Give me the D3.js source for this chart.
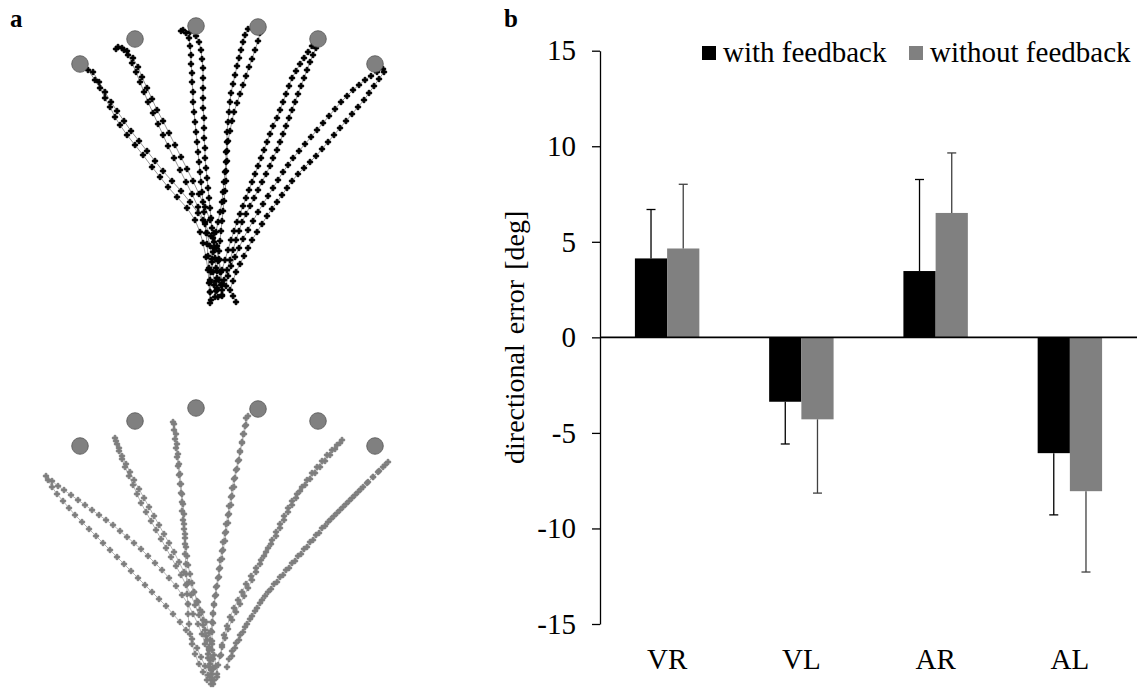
<!DOCTYPE html>
<html>
<head>
<meta charset="utf-8">
<script src="https://cdn.jsdelivr.net/npm/d3@7"></script>
<style>
  body { margin: 0; background: #fff; }
  svg, svg text { font-family: "Liberation Serif", "Times New Roman", serif; }
</style>
</head>
<body>
<svg width="1139" height="691"></svg>
<script>
// ---- panel a: hand paths, x lateral / y forward from start (mm) ----
const targets = [[-147, 236], [-92, 261], [-31, 274], [31, 273], [91, 261], [148, 236]];

const withPaths = [
  [[-139,230],[-132,220],[-127,212],[-122,202],[-117,193],[-112,183],[-107,175],[-100,165],[-92,155],[-84,145],[-75,133],[-67,123],[-59,113],[-50,103],[-40,92],[-32,80],[-27,68],[-24,57],[-21,43],[-19,30],[-18,17],[-17,-3]],
  [[-134,228],[-128,218],[-122,208],[-116,198],[-110,189],[-103,179],[-96,169],[-88,159],[-80,149],[-72,139],[-64,129],[-55,119],[-46,109],[-37,98],[-29,87],[-22,76],[-16,64],[-11,52],[-8,40],[-6,28],[-5,16],[-5,5]],
  [[-109,253],[-103,250],[-99,245],[-95,237],[-91,228],[-87,218],[-83,208],[-79,198],[-74,187],[-69,176],[-64,165],[-59,154],[-53,142],[-47,130],[-41,118],[-35,106],[-29,93],[-24,80],[-20,67],[-17,54],[-15,41],[-14,28],[-13,15],[-12,3]],
  [[-111,251],[-105,252],[-100,249],[-94,242],[-89,233],[-85,223],[-80,212],[-75,201],[-70,190],[-64,179],[-58,167],[-52,155],[-46,143],[-40,131],[-34,119],[-28,106],[-22,93],[-17,80],[-13,67],[-10,54],[-8,41],[-7,28],[-6,15],[-5,4]],
  [[-46,269],[-41,267],[-38,262],[-37,254],[-36,245],[-36,236],[-35,227],[-35,218],[-34,208],[-34,198],[-33,188],[-32,178],[-31,168],[-30,158],[-29,148],[-28,138],[-27,128],[-26,118],[-25,108],[-24,98],[-23,88],[-22,78],[-21,67],[-20,56],[-19,44],[-18,32],[-17,20],[-17,8],[-16,0]],
  [[-44,270],[-37,268],[-31,264],[-28,258],[-26,250],[-25,241],[-24,232],[-24,222],[-24,212],[-24,202],[-24,192],[-23,182],[-23,172],[-23,162],[-22,152],[-22,142],[-21,132],[-20,122],[-19,112],[-18,102],[-17,92],[-16,82],[-15,72],[-14,62],[-13,52],[-12,42],[-11,32],[-10,22],[-10,12],[-9,3]],
  [[21,271],[18,265],[16,258],[14,250],[12,242],[10,234],[8,225],[6,216],[4,207],[3,198],[2,188],[1,178],[0,168],[0,158],[-1,148],[-1,138],[-2,128],[-3,118],[-4,108],[-5,98],[-7,88],[-9,78],[-11,68],[-13,58],[-14,48],[-15,38],[-16,28],[-17,18],[-17,8]],
  [[33,267],[31,259],[28,250],[25,241],[22,233],[19,224],[16,215],[13,206],[10,197],[7,188],[5,179],[3,169],[1,159],[0,149],[0,139],[-1,129],[-1,119],[-2,109],[-3,99],[-4,89],[-5,79],[-6,69],[-7,59],[-8,49],[-9,39],[-10,29],[-11,19],[-11,9]],
  [[85,254],[81,248],[77,242],[73,236],[69,229],[65,222],[62,214],[59,206],[56,198],[53,190],[50,182],[46,174],[43,166],[40,158],[37,150],[34,142],[31,134],[28,126],[25,118],[22,110],[19,102],[16,94],[13,86],[10,78],[7,69],[4,60],[1,50],[-2,40],[-5,30],[-8,20],[-10,10]],
  [[89,252],[86,245],[83,238],[80,230],[77,222],[74,214],[71,206],[68,198],[65,190],[62,182],[59,174],[56,166],[53,158],[50,150],[46,142],[43,134],[39,126],[35,118],[31,110],[27,102],[23,94],[19,86],[15,78],[12,69],[9,60],[6,50],[3,40],[0,30],[-3,20],[-5,10]],
  [[156,231],[150,228],[144,224],[138,220],[132,215],[126,210],[120,204],[114,198],[108,191],[102,184],[96,177],[90,170],[84,163],[78,156],[72,149],[66,142],[61,135],[56,128],[51,120],[46,112],[41,104],[36,96],[31,88],[26,79],[21,70],[16,61],[12,52],[8,43],[4,34],[1,24],[-1,14]],
  [[157,228],[152,221],[147,214],[142,207],[137,200],[131,193],[125,186],[119,179],[113,172],[107,165],[101,158],[95,151],[89,144],[83,138],[77,132],[71,126],[65,119],[60,112],[55,105],[50,98],[45,91],[40,84],[35,76],[30,68],[25,60],[21,52],[17,44],[13,36],[9,28],[6,19],[3,10],[6,4],[9,-2]]
];

const withoutPaths = [
  [[-181,206],[-175,201],[-169,196],[-163,192],[-156,187],[-149,182],[-142,177],[-135,172],[-128,167],[-121,162],[-114,157],[-107,151],[-100,145],[-93,139],[-86,133],[-79,126],[-72,119],[-65,112],[-58,104],[-51,96],[-45,87],[-39,78],[-34,68],[-29,58],[-25,48],[-22,38],[-19,28],[-17,18],[-15,8],[-14,-2]],
  [[-179,202],[-175,195],[-170,188],[-164,181],[-158,174],[-152,167],[-145,160],[-138,153],[-131,146],[-124,139],[-117,132],[-110,125],[-103,118],[-96,111],[-89,104],[-82,97],[-75,90],[-68,83],[-61,76],[-54,68],[-47,60],[-41,52],[-35,43],[-30,34],[-26,25],[-22,16],[-19,7],[-16,-2]],
  [[-112,244],[-110,238],[-108,231],[-105,223],[-102,215],[-98,206],[-94,197],[-90,188],[-86,179],[-81,170],[-76,161],[-71,152],[-66,143],[-61,134],[-56,125],[-51,116],[-46,107],[-41,97],[-36,87],[-32,77],[-28,67],[-24,57],[-21,46],[-18,35],[-16,24],[-14,13],[-13,2]],
  [[-111,241],[-108,234],[-105,226],[-101,218],[-97,210],[-93,202],[-88,193],[-83,184],[-78,175],[-73,166],[-68,157],[-63,148],[-58,139],[-53,130],[-48,120],[-43,110],[-38,100],[-33,90],[-29,80],[-25,70],[-21,60],[-18,49],[-15,38],[-13,27],[-11,16],[-10,5]],
  [[-54,260],[-53,252],[-52,243],[-51,234],[-50,225],[-49,216],[-48,207],[-47,198],[-46,189],[-45,180],[-45,171],[-44,162],[-43,153],[-42,144],[-41,135],[-40,126],[-39,117],[-37,108],[-35,99],[-33,90],[-30,81],[-27,72],[-24,62],[-22,52],[-20,42],[-18,32],[-17,22],[-16,12],[-15,2]],
  [[-53,258],[-51,248],[-50,238],[-49,228],[-48,218],[-47,208],[-46,198],[-45,188],[-44,178],[-43,168],[-43,158],[-42,148],[-42,138],[-42,128],[-41,118],[-41,108],[-40,98],[-40,88],[-39,78],[-39,68],[-38,58],[-37,48],[-35,38],[-32,28],[-28,18],[-24,10],[-20,2]],
  [[19,264],[18,256],[16,248],[15,240],[13,231],[12,222],[10,213],[8,204],[7,195],[5,186],[4,177],[2,168],[1,159],[-1,150],[-2,141],[-4,132],[-5,123],[-7,114],[-8,105],[-10,96],[-11,87],[-13,78],[-14,69],[-15,60],[-16,51],[-17,42],[-18,33],[-19,24],[-18,15],[-17,5]],
  [[21,266],[19,257],[17,248],[15,239],[13,230],[11,221],[9,212],[7,203],[5,194],[4,185],[2,176],[1,167],[-1,158],[-2,149],[-4,140],[-5,131],[-7,122],[-8,113],[-9,104],[-11,95],[-12,86],[-13,77],[-14,68],[-14,59],[-15,50],[-15,41],[-15,32],[-14,23],[-14,14]],
  [[115,242],[110,237],[105,232],[100,227],[95,221],[90,215],[85,209],[80,202],[75,195],[70,188],[65,181],[61,174],[57,166],[53,158],[49,150],[45,142],[41,134],[37,126],[33,118],[29,110],[25,102],[21,94],[17,86],[13,78],[9,70],[5,62],[1,53],[-2,44],[-5,35],[-7,26],[-9,17],[-10,8]],
  [[113,239],[108,233],[103,227],[98,221],[93,215],[88,209],[83,203],[78,197],[73,191],[69,184],[65,177],[61,170],[57,162],[53,154],[49,146],[44,138],[39,130],[34,122],[29,114],[24,106],[19,98],[15,90],[11,82],[7,74],[3,65],[0,56],[-3,47],[-5,37],[-6,27]],
  [[161,220],[156,215],[151,210],[146,205],[141,200],[136,195],[131,190],[125,184],[119,178],[113,172],[107,166],[101,160],[95,154],[89,147],[83,140],[77,133],[71,126],[65,119],[59,112],[53,105],[47,98],[41,90],[35,82],[30,74],[25,66],[20,58],[16,50],[12,42],[8,34],[5,26]],
  [[158,217],[152,211],[146,205],[140,199],[134,193],[128,187],[122,181],[116,175],[110,169],[104,163],[98,156],[92,149],[86,142],[80,135],[74,128],[68,121],[62,114],[56,107],[50,100],[44,93],[38,86],[33,79],[28,71],[23,63],[18,55],[13,47],[9,39],[5,31],[2,23],[0,15]]
];

// ---- panel b: directional error ----
const conditions = ["VR", "VL", "AR", "AL"];
const seriesNames = ["with feedback", "without feedback"];
const withMean = [4.13, -3.37, 3.47, -6.06];
const withSD = [2.56, 2.21, 4.79, 3.23];
const withoutMean = [4.65, -4.29, 6.51, -8.05];
const withoutSD = [3.36, 3.86, 3.14, 4.23];
const yTicks = [-15, -10, -5, 0, 5, 10, 15];

const svg = d3.select("svg");

// panel labels
svg.append("text").attr("x", 10).attr("y", 27).attr("font-size", 25)
  .attr("font-weight", "bold").text("a");
svg.append("text").attr("x", 504).attr("y", 27).attr("font-size", 25)
  .attr("font-weight", "bold").text("b");

// panel a
const px = d3.scaleLinear().domain([-227, 173]).range([0, 400]);
const pyTop = d3.scaleLinear().domain([0, 300]).range([300, 0]);
const pyBot = d3.scaleLinear().domain([0, 300]).range([682, 382]);
const marker = d3.symbol().type(d3.symbolCross).size(16);

function drawPanel(paths, py, dotColor, lineColor) {
  const g = svg.append("g");
  const line = d3.line().x(d => px(d[0])).y(d => py(d[1]));
  g.selectAll("path.traj").data(paths).join("path")
    .attr("class", "traj")
    .attr("fill", "none")
    .attr("stroke", lineColor)
    .attr("stroke-width", 0.9)
    .attr("d", line);
  g.selectAll("g.pts").data(paths).join("g")
    .attr("class", "pts")
    .selectAll("path").data(d => d).join("path")
    .attr("transform", d => `translate(${px(d[0])},${py(d[1])})`)
    .attr("d", marker)
    .attr("fill", dotColor)
    .attr("stroke", dotColor)
    .attr("stroke-width", 0.9);
  g.selectAll("circle").data(targets).join("circle")
    .attr("cx", d => px(d[0]))
    .attr("cy", d => py(d[1]))
    .attr("r", 8.3)
    .attr("fill", "#808080")
    .attr("stroke", "#555")
    .attr("stroke-width", 0.8);
}
drawPanel(withPaths, pyTop, "#000", "#8a8a8a");
drawPanel(withoutPaths, pyBot, "#7f7f7f", "#b0b0b0");

// panel b
const y = d3.scaleLinear().domain([-15, 15]).range([624, 50.7]);
const x0 = d3.scaleBand().domain(conditions).range([600, 1137])
  .paddingInner(0.52).paddingOuter(0.26);
const x1 = d3.scaleBand().domain(seriesNames).range([0, x0.bandwidth()]);
const colors = { "with feedback": "#000", "without feedback": "#808080" };
const errColors = { "with feedback": "#000", "without feedback": "#404040" };

const rows = [];
conditions.forEach((c, i) => {
  rows.push({ cond: c, s: seriesNames[0], v: withMean[i], e: withSD[i] });
  rows.push({ cond: c, s: seriesNames[1], v: withoutMean[i], e: withoutSD[i] });
});

const gb = svg.append("g");
gb.selectAll("rect").data(rows).join("rect")
  .attr("x", d => x0(d.cond) + x1(d.s))
  .attr("width", x1.bandwidth())
  .attr("y", d => y(Math.max(0, d.v)))
  .attr("height", d => Math.abs(y(d.v) - y(0)))
  .attr("fill", d => colors[d.s]);

// one-sided error bars
const err = gb.selectAll("g.err").data(rows).join("g").attr("class", "err")
  .attr("stroke", d => errColors[d.s]).attr("stroke-width", 1.3);
err.append("line")
  .attr("x1", d => x0(d.cond) + x1(d.s) + x1.bandwidth() / 2)
  .attr("x2", d => x0(d.cond) + x1(d.s) + x1.bandwidth() / 2)
  .attr("y1", d => y(d.v))
  .attr("y2", d => y(d.v + Math.sign(d.v) * d.e));
err.append("line")
  .attr("x1", d => x0(d.cond) + x1(d.s) + x1.bandwidth() / 2 - 4.5)
  .attr("x2", d => x0(d.cond) + x1(d.s) + x1.bandwidth() / 2 + 4.5)
  .attr("y1", d => y(d.v + Math.sign(d.v) * d.e))
  .attr("y2", d => y(d.v + Math.sign(d.v) * d.e));

// y axis
const yAxis = svg.append("g").attr("transform", "translate(600,0)")
  .call(d3.axisLeft(y).tickValues(yTicks).tickFormat(d => String(d))
    .tickSize(8).tickPadding(16).tickSizeOuter(0));
yAxis.attr("font-family", null);
yAxis.select(".domain").attr("stroke", "#000").attr("stroke-width", 1.3);
yAxis.selectAll(".tick line").attr("stroke", "#000").attr("stroke-width", 1.3);
yAxis.selectAll(".tick text")
  .style("font-family", "'Liberation Serif', 'Times New Roman', serif")
  .attr("font-size", 29).attr("fill", "#000");

// zero line
svg.append("line").attr("x1", 600).attr("x2", 1137)
  .attr("y1", y(0)).attr("y2", y(0))
  .attr("stroke", "#000").attr("stroke-width", 1.6);

// category labels
svg.selectAll("text.cat").data(conditions).join("text")
  .attr("class", "cat")
  .attr("x", d => x0(d) + x0.bandwidth() / 2)
  .attr("y", 669)
  .attr("text-anchor", "middle")
  .attr("font-size", 29)
  .text(d => d);

// y label
svg.append("text")
  .attr("transform", `translate(524,${y(0)}) rotate(-90)`)
  .attr("text-anchor", "middle")
  .attr("font-size", 28)
  .attr("word-spacing", 3)
  .text("directional error [deg]");

// legend
const legX = [702, 909];
const lg = svg.selectAll("g.leg").data(seriesNames).join("g")
  .attr("class", "leg")
  .attr("transform", (d, i) => `translate(${legX[i]},0)`);
lg.append("rect").attr("x", 0).attr("y", 46).attr("width", 14).attr("height", 14)
  .attr("fill", d => colors[d]);
lg.append("text").attr("x", 21).attr("y", 62).attr("font-size", 29).text(d => d);
</script>
</body>
</html>
